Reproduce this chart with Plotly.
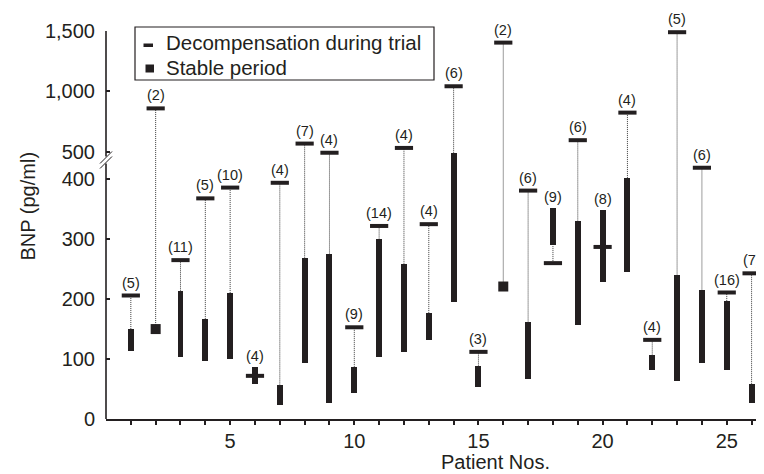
import plotly.graph_objects as go

# ---- data (BNP, pg/ml) ----
patients = list(range(1, 27))
decomp = [206, 860, 265, 368, 386, 72, 394, 569, 497, 153, 322, 533, 325, 1043,
          112, 1404, 381, 260, 597, 287, 825, 132, 1490, 442, 211, 243]
stable_low = [114, 150, 103, 97, 100, 58, 23, 93, 26, 43, 104, 112, 131, 196,
              54, 221, 66, 290, 156, 228, 246, 81, 64, 93, 81, 27]
stable_high = [150, 150, 213, 167, 210, 86, 56, 268, 276, 87, 301, 259, 177, 495,
               89, 221, 161, 352, 331, 348, 404, 106, 241, 216, 197, 58]
n_obs = [5, 2, 11, 5, 10, 4, 4, 7, 4, 9, 14, 4, 4, 6, 3, 2, 6, 9, 6, 8, 4, 4, 5, 6, 16, 7]

y_tick_values = [0, 100, 200, 300, 400, 500, 1000, 1500]
y_tick_labels = ["0", "100", "200", "300", "400", "500", "1,000", "1,500"]
x_tick_values = [5, 10, 15, 20, 25]
x_tick_labels = ["5", "10", "15", "20", "25"]

INK = "#231f20"
FONT = "Liberation Sans, Arial, Helvetica, sans-serif"
PX_PER_UNIT = 0.6  # display units -> pixels (lower segment)


def to_disp(v):
    """Broken-axis transform: 0-400 linear, 400-500 compressed, >500 condensed."""
    if v <= 400:
        return v
    if v <= 500:
        return 400 + (v - 400) * 0.455
    return 445.5 + (v - 500) * 0.2017


y_top = to_disp(1500)

# page has an 8px body margin; figure is sized so the plot lands where the reference has it
OFF = 8
W, H = 756, 466
ML, MR, MT, MB = 98, 0, 23, 55
pw, ph = W - ML - MR, H - MT - MB


def px2paper(x, y):
    """screen pixel -> paper coords"""
    return (x - OFF - ML) / pw, (H - MB - (y - OFF)) / ph


fig = go.Figure()

# dotted connectors
cx, cy = [], []
for p, d, lo, hi in zip(patients, decomp, stable_low, stable_high):
    if d > hi:
        cx += [p, p, None]
        cy += [to_disp(hi), to_disp(d), None]
    elif d < lo:
        cx += [p, p, None]
        cy += [to_disp(d), to_disp(lo), None]
fig.add_trace(go.Scatter(x=cx, y=cy, mode="lines", showlegend=False, hoverinfo="skip",
                         line=dict(color="#3a3a3a", width=1, dash="1px,1px")))

# stable period bars (ranges)
bx, bbase, bh = [], [], []
sqx, sqy = [], []
for p, lo, hi in zip(patients, stable_low, stable_high):
    if hi > lo:
        bx.append(p)
        bbase.append(to_disp(lo))
        bh.append(to_disp(hi) - to_disp(lo))
    else:
        sqx.append(p)
        sqy.append(to_disp(lo))
fig.add_trace(go.Bar(x=bx, y=bh, base=bbase, width=0.24, marker=dict(color=INK, line=dict(width=0)),
                     showlegend=False, hoverinfo="skip"))
fig.add_trace(go.Scatter(x=sqx, y=sqy, mode="markers", showlegend=False, hoverinfo="skip",
                         marker=dict(symbol="square", size=10, color=INK, line=dict(width=0))))

# decompensation dashes
fig.add_trace(go.Scatter(x=patients, y=[to_disp(d) for d in decomp], mode="markers",
                         showlegend=False, hoverinfo="skip", cliponaxis=False,
                         marker=dict(symbol="line-ew", size=13, color=INK,
                                     line=dict(width=4, color=INK))))

# (n) labels
annotations = []
for p, d, hi, n in zip(patients, decomp, stable_high, n_obs):
    dash_top = to_disp(d) + 2 / PX_PER_UNIT
    if dash_top >= to_disp(hi):
        ay, shift = to_disp(d), 3
    else:
        ay, shift = to_disp(hi), 1
    annotations.append(dict(x=p, y=ay, xref="x", yref="y", text=f"({n})", showarrow=False,
                            yanchor="bottom", yshift=shift,
                            font=dict(size=14.5, color=INK, family=FONT)))

# axis titles
tx, ty = px2paper(27.5, 206)
annotations.append(dict(x=tx, y=ty, xref="paper", yref="paper", text="BNP (pg/ml)",
                        textangle=-90, showarrow=False, xanchor="center", yanchor="middle",
                        font=dict(size=20, color=INK, family=FONT)))
tx, ty = px2paper(495, 462)
annotations.append(dict(x=tx, y=ty, xref="paper", yref="paper", text="Patient Nos.",
                        showarrow=False, xanchor="center", yanchor="middle",
                        font=dict(size=20, color=INK, family=FONT)))

# legend (drawn manually)
shapes = []
lx0, ly0 = px2paper(135, 27)
lx1, ly1 = px2paper(434, 80)
shapes.append(dict(type="rect", xref="paper", yref="paper", x0=lx0, y0=ly1, x1=lx1, y1=ly0,
                   line=dict(color=INK, width=1.2), fillcolor="white", layer="above"))
a0, b0 = px2paper(143.5, 43.5)
a1, b1 = px2paper(153, 47)
shapes.append(dict(type="rect", xref="paper", yref="paper", x0=a0, y0=b1, x1=a1, y1=b0,
                   line=dict(width=0), fillcolor=INK, layer="above"))
a0, b0 = px2paper(145.5, 64.5)
a1, b1 = px2paper(154, 72.5)
shapes.append(dict(type="rect", xref="paper", yref="paper", x0=a0, y0=b1, x1=a1, y1=b0,
                   line=dict(width=0), fillcolor=INK, layer="above"))
for txt, yy in [("Decompensation during trial", 42), ("Stable period", 67)]:
    tx, tyy = px2paper(164, yy)
    annotations.append(dict(x=tx, y=tyy, xref="paper", yref="paper", text=txt, showarrow=False,
                            xanchor="left", yanchor="middle",
                            font=dict(size=20.5, color=INK, family=FONT)))

# broken y-axis line
shapes.append(dict(type="line", xref="paper", yref="y", x0=0, x1=0, y0=0, y1=to_disp(400) + 26,
                   line=dict(color=INK, width=1.6)))
shapes.append(dict(type="line", xref="paper", yref="y", x0=0, x1=0, y0=to_disp(400) + 38, y1=y_top,
                   line=dict(color=INK, width=1.6)))
for off in (-2.5, 2.5):
    shapes.append(dict(type="line", xref="paper", yref="y", xsizemode="pixel", ysizemode="pixel",
                       xanchor=0, yanchor=to_disp(400) + 32, x0=-6, x1=6, y0=-6 + off, y1=6 + off,
                       line=dict(color=INK, width=1)))

fig.update_layout(
    width=W, height=H,
    margin=dict(l=ML, r=MR, t=MT, b=MB),
    paper_bgcolor="white", plot_bgcolor="white",
    showlegend=False, bargap=0,
    font=dict(family=FONT, color=INK),
    annotations=annotations, shapes=shapes,
    xaxis=dict(range=[0, 26.5], tickmode="array", tickvals=x_tick_values, ticktext=x_tick_labels,
               ticks="", showline=True, linecolor=INK, linewidth=1.6, showgrid=False,
               zeroline=False, ticklabelstandoff=3,
               minor=dict(tickvals=patients, ticks="outside", ticklen=4, tickwidth=1.5,
                          tickcolor=INK, showgrid=False),
               tickfont=dict(size=20, color=INK, family=FONT)),
    yaxis=dict(range=[0, y_top], tickmode="array",
               tickvals=[to_disp(v) for v in y_tick_values], ticktext=y_tick_labels,
               ticks="inside", ticklen=4, tickwidth=1.5, tickcolor=INK,
               showline=False, showgrid=False, zeroline=False, ticklabelstandoff=10,
               tickfont=dict(size=20, color=INK, family=FONT)),
)

fig.write_html("out.html")
